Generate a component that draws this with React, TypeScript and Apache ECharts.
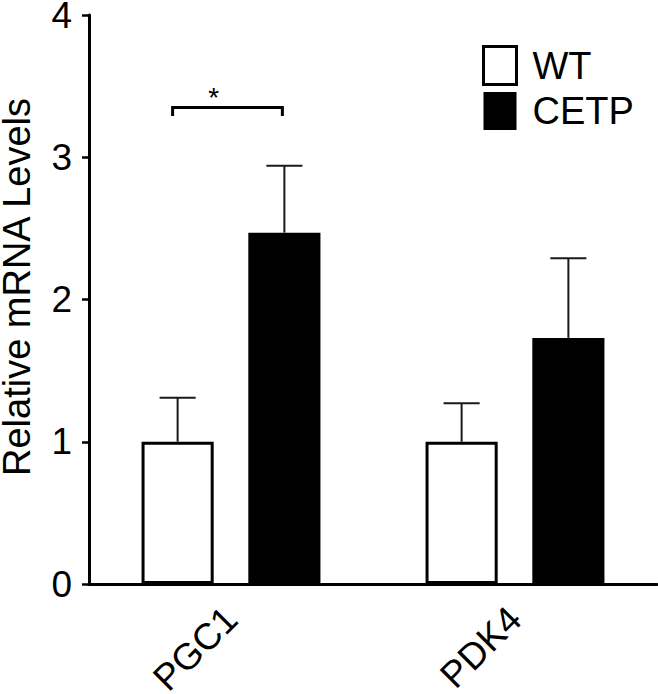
import React, { useEffect, useRef } from "react";
import * as echarts from "echarts";

const categories = ["PGC1", "PDK4"];
const wtMeans = [1.0, 1.0];
const wtErrTops = [1.31, 1.27];
const cetpMeans = [2.47, 1.73];
const cetpErrTops = [2.94, 2.29];
const yTicks = [0, 1, 2, 3, 4];
const bracketLevel = 3.35;
const bracketFootLevel = 3.29;
const starLabel = "*";

const FONT = "'Liberation Sans', Arial, Helvetica, sans-serif";
const BAR_W_FRAC = 0.254;
const GAP_FRAC = 0.48;

export default function App() {
  const ref = useRef<HTMLDivElement>(null);
  useEffect(() => {
    if (!ref.current) return;
    const chart = echarts.init(ref.current, null, { renderer: "svg" });
    const barOffset = (band: number) => (band * BAR_W_FRAC * (1 + GAP_FRAC)) / 2;

    const errSeries = (name: string, means: number[], tops: number[], sign: number) => ({
      type: "custom",
      name: name + "-err",
      z: 3,
      silent: true,
      encode: { x: 0, y: [1, 2] },
      data: means.map((m, i) => [i, m, tops[i]]),
      renderItem: (params: any, api: any) => {
        const cat = api.value(0);
        const base = api.coord([cat, api.value(1)]);
        const top = api.coord([cat, api.value(2)]);
        const band = api.size([1, 0])[0];
        const x = base[0] + sign * barOffset(band);
        const capHalf = (band * BAR_W_FRAC) / 4;
        const st = { stroke: "#1a1a1a", lineWidth: 2 };
        return {
          type: "group",
          children: [
            { type: "line", shape: { x1: x, y1: base[1], x2: x, y2: top[1] }, style: st },
            { type: "line", shape: { x1: x - capHalf, y1: top[1], x2: x + capHalf, y2: top[1] }, style: st },
          ],
        };
      },
    });

    chart.setOption({
      animation: false,
      backgroundColor: "#fff",
      grid: {
        left: 89,
        right: 1,
        top: 15,
        bottom: 110,
        containLabel: false,
        outerBoundsMode: "none",
      },
      legend: {
        orient: "vertical",
        left: 477,
        top: 40,
        icon: "rect",
        itemWidth: 33,
        itemHeight: 38,
        itemGap: 6,
        selectedMode: false,
        data: [
          { name: "WT", itemStyle: { color: "#fff", borderColor: "#000", borderWidth: 3 } },
          { name: "CETP", itemStyle: { color: "#000", borderColor: "#000", borderWidth: 0 } },
        ],
        textStyle: { fontSize: 38, fontFamily: FONT, color: "#000", padding: [0, 0, 0, 11], lineHeight: 38 },
      },
      xAxis: {
        type: "category",
        data: categories,
        axisLine: { lineStyle: { color: "#000", width: 3 } },
        axisTick: { alignWithLabel: true, length: 8, lineStyle: { color: "#000", width: 2.5 } },
        axisLabel: { rotate: 45, fontSize: 37, lineHeight: 28, fontFamily: FONT, color: "#000", margin: 29 },
      },
      yAxis: {
        type: "value",
        min: yTicks[0],
        max: yTicks[yTicks.length - 1],
        interval: 1,
        splitLine: { show: false },
        axisLine: { show: true, lineStyle: { color: "#000", width: 3 } },
        axisTick: { show: true, length: 7, lineStyle: { color: "#000", width: 2.5 } },
        axisLabel: { fontSize: 37, lineHeight: 28, fontFamily: FONT, color: "#000", margin: 17 },
      },
      graphic: [
        {
          type: "text",
          x: 17,
          y: 287,
          rotation: Math.PI / 2,
          style: {
            text: "Relative mRNA Levels",
            fontSize: 38,
            lineHeight: 30,
            fontFamily: FONT,
            fill: "#000",
            textAlign: "center",
            textVerticalAlign: "middle",
          },
        },
      ],
      series: [
        {
          type: "bar",
          name: "WT",
          data: wtMeans,
          barWidth: (BAR_W_FRAC * 100).toFixed(1) + "%",
          barGap: GAP_FRAC * 100 + "%",
          itemStyle: { color: "#fff", borderColor: "#000", borderWidth: 3 },
          z: 2,
        },
        {
          type: "bar",
          name: "CETP",
          data: cetpMeans,
          barWidth: (BAR_W_FRAC * 100).toFixed(1) + "%",
          barGap: GAP_FRAC * 100 + "%",
          itemStyle: { color: "#000" },
          z: 2,
        },
        errSeries("WT", wtMeans, wtErrTops, -1),
        errSeries("CETP", cetpMeans, cetpErrTops, 1),
        {
          type: "custom",
          name: "sig",
          silent: true,
          z: 4,
          encode: { x: 0, y: [1, 2] },
          data: [[0, bracketLevel, bracketFootLevel]],
          renderItem: (params: any, api: any) => {
            const cat = api.value(0);
            const p = api.coord([cat, api.value(1)]);
            const foot = api.coord([cat, api.value(2)]);
            const band = api.size([1, 0])[0];
            const off = barOffset(band);
            const x1 = p[0] - off - 5;
            const x2 = p[0] + off - 2;
            return {
              type: "group",
              children: [
                {
                  type: "polyline",
                  shape: { points: [[x1, foot[1]], [x1, p[1]], [x2, p[1]], [x2, foot[1]]] },
                  style: { stroke: "#000", lineWidth: 3, fill: null },
                },
                {
                  type: "text",
                  x: p[0] - off + 36,
                  y: p[1] + 4,
                  style: {
                    text: starLabel,
                    fontSize: 28,
                    fontFamily: FONT,
                    fill: "#000",
                    textAlign: "center",
                    textVerticalAlign: "bottom",
                  },
                },
              ],
            };
          },
        },
      ],
    });
    return () => chart.dispose();
  }, []);
  return (
    <div
      ref={ref}
      style={{ position: "absolute", left: 0, top: 0, width: 658, height: 694, background: "#fff" }}
    />
  );
}
